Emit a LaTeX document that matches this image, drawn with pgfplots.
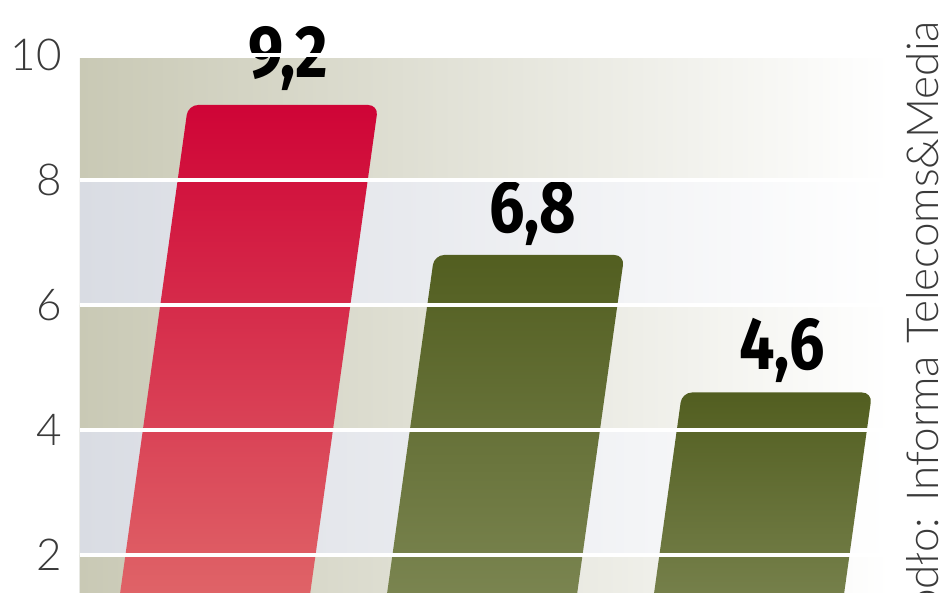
\documentclass[border=0pt]{standalone}
\usepackage{pgfplots}
\pgfplotsset{compat=1.18}
\usepackage{fontspec}
\setmainfont{Liberation Sans}
\newfontfamily\thinfont{Lato Light}
\newfontfamily\numfont[FakeStretch=0.85]{Fira Sans}

\definecolor{bandA}{HTML}{C9C9B5}
\definecolor{bandB}{HTML}{D9DCE3}
\definecolor{redtop}{HTML}{CF0436}
\definecolor{redbot}{HTML}{E27470}
\definecolor{olivetop}{HTML}{525E20}
\definecolor{olivebot}{HTML}{848E5C}
\definecolor{ticktext}{HTML}{3A3A3A}

\begin{document}
\begin{tikzpicture}
\begin{axis}[
    scale only axis,
    width=405pt, height=312.5pt,
    xmin=-0.461, xmax=2.573,
    ymin=0, ymax=10,
    axis line style={draw=none},
    major tick length=0pt,
    xtick=\empty,
    ytick={2,4,6,8,10},
    /pgf/number format/assume math mode=true,
    yticklabel style={font=\thinfont\fontsize{22}{22}\selectfont, text=ticktext,
        inner sep=0pt, anchor=east, xshift=-9pt},
    ymajorgrids=true,
    major grid style={white, line width=2pt},
    axis on top,
    clip=false,
]

% background bands
\addplot[draw=none, left color=bandA, right color=white] coordinates {(-0.461,0) (2.573,0) (2.573,2) (-0.461,2)} \closedcycle;
\addplot[draw=none, left color=bandB, right color=white] coordinates {(-0.461,2) (2.573,2) (2.573,4) (-0.461,4)} \closedcycle;
\addplot[draw=none, left color=bandA, right color=white] coordinates {(-0.461,4) (2.573,4) (2.573,6) (-0.461,6)} \closedcycle;
\addplot[draw=none, left color=bandB, right color=white] coordinates {(-0.461,6) (2.573,6) (2.573,8) (-0.461,8)} \closedcycle;
\addplot[draw=none, left color=bandA, right color=white] coordinates {(-0.461,8) (2.573,8) (2.573,9.95) (-0.461,9.95)} \closedcycle;

% slanted bars
\addplot[draw=none, rounded corners=5pt, top color=redtop, bottom color=redbot]
    coordinates {(-0.356,0) (0.356,0) (0.656,9.2) (-0.056,9.2)} -- cycle;
\addplot[draw=none, rounded corners=5pt, top color=olivetop, bottom color=olivebot]
    coordinates {(0.644,0) (1.356,0) (1.578,6.8) (0.866,6.8)} -- cycle;
\addplot[draw=none, rounded corners=5pt, top color=olivetop, bottom color=olivebot]
    coordinates {(1.644,0) (2.356,0) (2.506,4.6) (1.794,4.6)} -- cycle;

% value labels
\node[anchor=base, font=\numfont\bfseries\fontsize{37}{37}\selectfont, yshift=13.5pt] at (axis cs:0.318,9.2) {9,2};
\node[anchor=base, font=\numfont\bfseries\fontsize{37}{37}\selectfont, yshift=11.25pt] at (axis cs:1.236,6.8) {6,8};
\node[anchor=base, font=\numfont\bfseries\fontsize{37}{37}\selectfont, yshift=11.25pt] at (axis cs:2.168,4.6) {4,6};

% source
\node[rotate=90, anchor=base east, inner sep=0pt, text=ticktext,
      font=\thinfont\fontsize{22}{22}\selectfont] at (axis cs:2.753,10.55) {Źródło: Informa Telecoms\&Media};
\end{axis}
\pgfresetboundingbox
\useasboundingbox (-40pt,43.5pt) rectangle (434pt,340pt);
\end{tikzpicture}
\end{document}
